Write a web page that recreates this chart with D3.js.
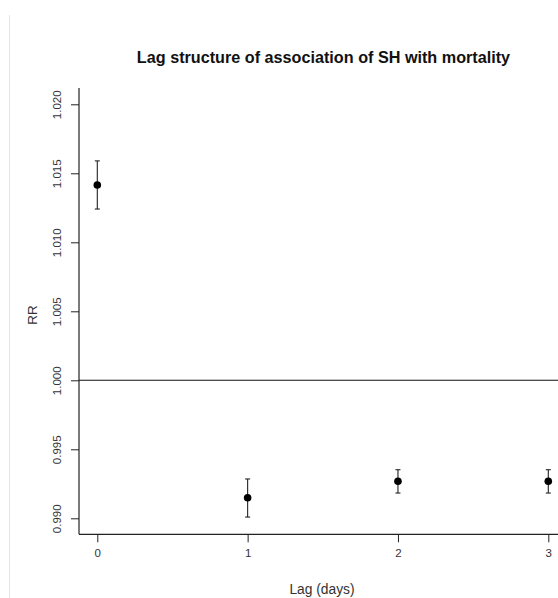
<!DOCTYPE html>
<html><head><meta charset="utf-8">
<script src="https://cdn.jsdelivr.net/npm/d3@7"></script>
<style>body{margin:0;background:#fff}svg{display:block}text{font-family:"Liberation Sans",Arial,sans-serif}</style>
</head><body>
<script>
const lags = [0, 1, 2, 3];
const rr = [1.01415, 0.99149, 0.99268, 0.99268];
const lower = [1.01241, 0.99009, 0.99183, 0.99183];
const upper = [1.01590, 0.99285, 0.99352, 0.99352];
const yTicks = [0.990, 0.995, 1.000, 1.005, 1.010, 1.015, 1.020];
const xTicks = [0, 1, 2, 3];
const title = "Lag structure of association of SH with mortality";

const W = 558, H = 598;
const svg = d3.select("body").append("svg").attr("width", W).attr("height", H);

const x = d3.scaleLinear().domain([0, 3]).range([97.3, 548.3]);
const y = d3.scaleLinear().domain([0.990, 1.020]).range([518.3, 104.3]);
const axX = 79, axY = 534.3;

// faint frame line at left
svg.append("line").attr("x1", 9.5).attr("x2", 9.5).attr("y1", 15).attr("y2", H)
  .attr("stroke", "#e4e4e4").attr("stroke-width", 1);

// y axis
const gy = svg.append("g").attr("transform", `translate(${axX},0)`)
  .call(d3.axisLeft(y).tickValues(yTicks).tickFormat(d3.format(".3f")).tickSize(8).tickSizeOuter(0));
gy.select(".domain").remove();
gy.selectAll(".tick line").attr("stroke", "#222");
gy.selectAll(".tick text").attr("transform", "rotate(-90)").attr("x", 0).attr("y", -22)
  .attr("dy", "0.35em").attr("text-anchor", "middle").attr("font-size", 11.5).attr("fill", "#333");
svg.append("line").attr("x1", axX).attr("x2", axX).attr("y1", 88).attr("y2", axY)
  .attr("stroke", "#222").attr("stroke-width", 1.2);

// x axis
const gx = svg.append("g").attr("transform", `translate(0,${axY})`)
  .call(d3.axisBottom(x).tickValues(xTicks).tickFormat(d3.format("d")).tickSize(8).tickSizeOuter(0));
gx.select(".domain").remove();
gx.selectAll(".tick line").attr("stroke", "#222");
gx.selectAll(".tick text").attr("y", 19).attr("dy", "0.35em").attr("font-size", 11.5).attr("fill", "#333");
svg.append("line").attr("x1", axX).attr("x2", W).attr("y1", axY).attr("y2", axY)
  .attr("stroke", "#222").attr("stroke-width", 1.2);

// reference line at RR = 1
svg.append("line").attr("x1", axX).attr("x2", W).attr("y1", y(1)).attr("y2", y(1))
  .attr("stroke", "#111").attr("stroke-width", 1.1);

// error bars
const data = lags.map((l, i) => ({l, rr: rr[i], lo: lower[i], hi: upper[i]}));
const eb = svg.append("g").attr("stroke", "#222").attr("stroke-width", 1.1);
eb.selectAll(".v").data(data).join("line")
  .attr("x1", d => x(d.l)).attr("x2", d => x(d.l)).attr("y1", d => y(d.lo)).attr("y2", d => y(d.hi));
eb.selectAll(".t").data(data).join("line")
  .attr("x1", d => x(d.l) - 2.5).attr("x2", d => x(d.l) + 2.5).attr("y1", d => y(d.hi)).attr("y2", d => y(d.hi));
eb.selectAll(".b").data(data).join("line")
  .attr("x1", d => x(d.l) - 2.5).attr("x2", d => x(d.l) + 2.5).attr("y1", d => y(d.lo)).attr("y2", d => y(d.lo));

svg.append("g").selectAll("circle").data(data).join("circle")
  .attr("cx", d => x(d.l)).attr("cy", d => y(d.rr)).attr("r", 3.8).attr("fill", "#000");

// labels
svg.append("text").attr("x", 323.5).attr("y", 57).attr("dy", "0.35em").attr("text-anchor", "middle")
  .attr("font-size", 16.2).attr("font-weight", "bold").attr("fill", "#111").text(title);
svg.append("text").attr("x", 322).attr("y", 589).attr("dy", "0.35em").attr("text-anchor", "middle")
  .attr("font-size", 13.8).attr("fill", "#333").text("Lag (days)");
svg.append("text").attr("transform", `translate(32,315) rotate(-90)`).attr("dy", "0.35em")
  .attr("text-anchor", "middle").attr("font-size", 13.5).attr("fill", "#333").text("RR");
</script>
</body></html>
